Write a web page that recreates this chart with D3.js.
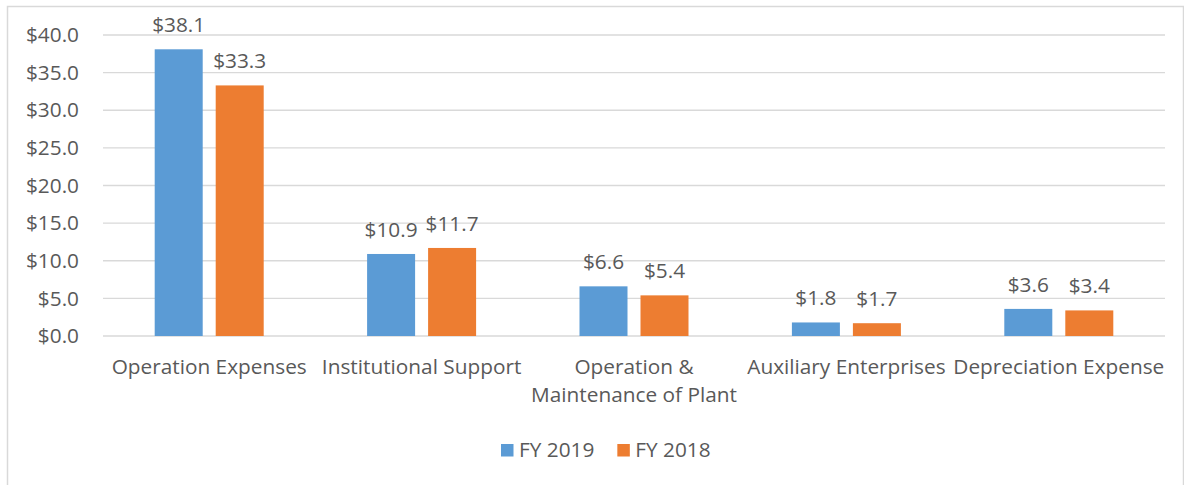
<!DOCTYPE html>
<html>
<head>
<meta charset="utf-8">
<script src="https://cdn.jsdelivr.net/npm/d3@7"></script>
<style>
  body { margin: 0; background: #fff; }
  svg { display: block; font-family: "Open Sans", sans-serif; }
</style>
</head>
<body>
<svg id="chart"></svg>
<script>
const categories = ['Operation Expenses', 'Institutional Support', 'Operation & Maintenance of Plant', 'Auxiliary Enterprises', 'Depreciation Expense'];
const fy2019 = [38.1, 10.9, 6.6, 1.8, 3.6];
const fy2018 = [33.3, 11.7, 5.4, 1.7, 3.4];
const seriesNames = ['FY 2019', 'FY 2018'];
const yTicks = [0, 5, 10, 15, 20, 25, 30, 35, 40];

const width = 1184, height = 485;
const colors = ['#5B9BD5', '#ED7D31'];
const textColor = '#595959';
const fontSize = 20.8;

const svg = d3.select('#chart')
  .attr('width', width)
  .attr('height', height);

// chart frame
svg.append('rect')
  .attr('x', 7.5).attr('y', 6.5)
  .attr('width', 1176).attr('height', 490)
  .attr('fill', 'none')
  .attr('stroke', '#d9d9d9')
  .attr('stroke-width', 1.5);

const margin = { top: 35, left: 103, right: 19, bottom: 149 };
const innerW = width - margin.left - margin.right;
const innerH = height - margin.top - margin.bottom;

const g = svg.append('g')
  .attr('transform', `translate(${margin.left},${margin.top})`);

const x = d3.scaleBand()
  .domain(categories)
  .range([0, innerW]);

const y = d3.scaleLinear()
  .domain([0, 40])
  .range([innerH, 0]);

// gridlines
g.append('g')
  .selectAll('line')
  .data(yTicks)
  .enter()
  .append('line')
  .attr('x1', 0).attr('x2', innerW)
  .attr('y1', d => y(d)).attr('y2', d => y(d))
  .attr('stroke', '#d9d9d9')
  .attr('stroke-width', 1.3);

// y axis labels
const yAxis = g.append('g')
  .call(d3.axisLeft(y).tickValues(yTicks).tickSize(0).tickPadding(24).tickFormat(d => '$' + d3.format('.1f')(d)));
yAxis.select('.domain').remove();
yAxis.selectAll('text')
  .attr('fill', textColor)
  .style('font-size', fontSize + 'px')
  .style('font-family', '"Open Sans", sans-serif');

// bars
const barW = 48, gap = 13;
const series = [fy2019, fy2018];
series.forEach((vals, si) => {
  const offset = (x.bandwidth() - (2 * barW + gap)) / 2 + si * (barW + gap);
  g.append('g')
    .selectAll('rect')
    .data(vals)
    .enter()
    .append('rect')
    .attr('x', (d, i) => x(categories[i]) + offset)
    .attr('y', d => y(d))
    .attr('width', barW)
    .attr('height', d => y(0) - y(d))
    .attr('fill', colors[si]);

  g.append('g')
    .selectAll('text')
    .data(vals)
    .enter()
    .append('text')
    .attr('x', (d, i) => x(categories[i]) + offset + barW / 2)
    .attr('y', d => y(d) - 17)
    .attr('text-anchor', 'middle')
    .attr('fill', textColor)
    .style('font-size', fontSize + 'px')
    .text(d => '$' + d3.format('.1f')(d));
});

// x labels with wrapping
const xLab = g.append('g')
  .selectAll('text')
  .data(categories)
  .enter()
  .append('text')
  .attr('x', d => x(d) + x.bandwidth() / 2)
  .attr('y', innerH + 38)
  .attr('text-anchor', 'middle')
  .attr('fill', textColor)
  .style('font-size', fontSize + 'px');

xLab.each(function(d) {
  const t = d3.select(this);
  const words = d.split(' ');
  let line = [];
  let tspan = t.append('tspan').attr('x', t.attr('x')).attr('dy', 0);
  words.forEach(w => {
    line.push(w);
    tspan.text(line.join(' '));
    if (tspan.node().getComputedTextLength() > x.bandwidth() + 6 && line.length > 1) {
      line.pop();
      tspan.text(line.join(' '));
      line = [w];
      tspan = t.append('tspan').attr('x', t.attr('x')).attr('dy', 28).text(w);
    }
  });
});

// legend
const legend = svg.append('g')
  .attr('transform', 'translate(501,444)');
let lx = 0;
seriesNames.forEach((name, i) => {
  const item = legend.append('g').attr('transform', `translate(${lx},0)`);
  item.append('rect')
    .attr('width', 12.5).attr('height', 12.5)
    .attr('fill', colors[i]);
  const txt = item.append('text')
    .attr('x', 18)
    .attr('y', 13)
    .attr('fill', textColor)
    .style('font-size', fontSize + 'px')
    .text(name);
  lx += 18 + txt.node().getComputedTextLength() + 23;
});
</script>
</body>
</html>
